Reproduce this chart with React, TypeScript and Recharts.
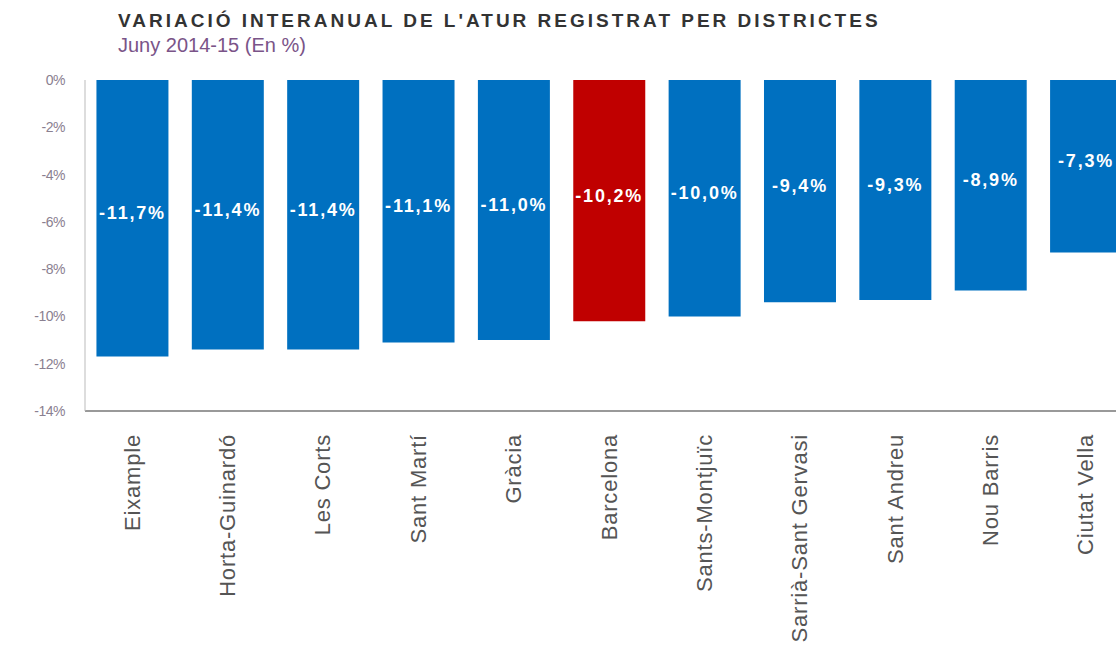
import { BarChart, Bar, XAxis, YAxis, Cell, LabelList } from 'recharts';

// Registered unemployment, year-on-year change by district (June 2014-15)
const districts = [
    'Eixample', 'Horta-Guinardó', 'Les Corts', 'Sant Martí', 'Gràcia', 'Barcelona',
    'Sants-Montjuïc', 'Sarrià-Sant Gervasi', 'Sant Andreu', 'Nou Barris', 'Ciutat Vella',
];
const changes = [-11.7, -11.4, -11.4, -11.1, -11.0, -10.2, -10.0, -9.4, -9.3, -8.9, -7.3];
const yTicks = [0, -2, -4, -6, -8, -10, -12, -14];
const highlight = 'Barcelona';

const BLUE = '#0070C0';
const RED = '#C00000';
const FONT = 'Arial, "Liberation Sans", sans-serif';

const data = districts.map((name, i) => ({ name, value: changes[i] }));

const fmtPct = (v: number) => `${v.toFixed(1).replace('.', ',')}%`;

function DistrictTick({ x, y, payload }: any) {
    return (
        <text
            x={0}
            y={0}
            transform={`translate(${x + 7},${y + 15}) rotate(-90)`}
            textAnchor="end"
            fontSize={22}
            letterSpacing={0.8}
            fill="#555"
            fontFamily={FONT}
        >
            {payload.value}
        </text>
    );
}

// value label sits a little above the middle of the bar
function BarValue({ x, y, width, height, value }: any) {
    return (
        <text
            x={x + width / 2}
            y={y + height / 2 - 5}
            textAnchor="middle"
            dominantBaseline="central"
            fill="#fff"
            fontSize={18}
            fontWeight={700}
            fontFamily={FONT}
            letterSpacing={1.8}
        >
            {fmtPct(Number(value))}
        </text>
    );
}

export default function App() {
    return (
        <div style={{ position: 'absolute', left: 0, top: 0, width: 1116, height: 652, overflow: 'hidden', background: '#fff' }}>
            <div style={{ position: 'absolute', left: 118, top: 10, fontFamily: FONT, fontWeight: 700, fontSize: 19, letterSpacing: 3, color: '#333', whiteSpace: 'nowrap' }}>
                VARIACIÓ INTERANUAL DE L'ATUR REGISTRAT PER DISTRICTES
            </div>
            <div style={{ position: 'absolute', left: 118, top: 34, fontFamily: FONT, fontSize: 20, color: '#7a5488', whiteSpace: 'nowrap' }}>
                Juny 2014-15 (En %)
            </div>
            <BarChart
                width={1140}
                height={652}
                data={data}
                margin={{ top: 80, right: 6, left: 0, bottom: 0 }}
                barCategoryGap="12%"
            >
                <XAxis
                    dataKey="name"
                    height={241}
                    axisLine={{ stroke: '#999', strokeWidth: 2 }}
                    tickLine={false}
                    interval={0}
                    tick={<DistrictTick />}
                />
                <YAxis
                    width={85}
                    domain={[-14, 0]}
                    ticks={yTicks}
                    tickFormatter={(v: number) => `${v}%`}
                    axisLine={{ stroke: '#bbb' }}
                    tickLine={false}
                    tickSize={0}
                    tickMargin={20}
                    tick={{ fontSize: 14, fill: '#8a8090', fontFamily: FONT, letterSpacing: -0.5 }}
                />
                <Bar dataKey="value" isAnimationActive={false}>
                    {data.map((d) => (
                        <Cell key={d.name} fill={d.name === highlight ? RED : BLUE} />
                    ))}
                    <LabelList dataKey="value" content={<BarValue />} />
                </Bar>
            </BarChart>
        </div>
    );
}
